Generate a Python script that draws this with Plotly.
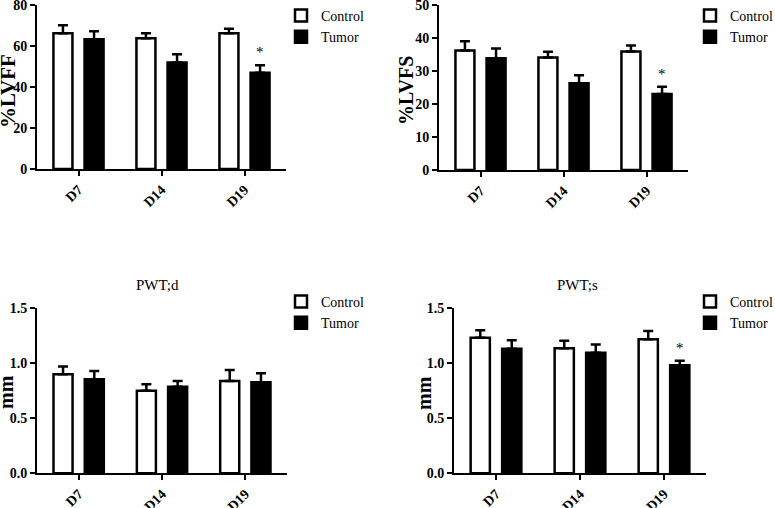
import plotly.graph_objects as go

# ---------------- data ----------------
categories = ["D7", "D14", "D19"]

lvff_control = [66.2, 63.8, 66.2]
lvff_control_err = [3.9, 2.4, 2.2]
lvff_tumor = [63.3, 52.0, 47.0]
lvff_tumor_err = [3.9, 4.0, 3.6]

lvfs_control = [36.2, 34.1, 35.9]
lvfs_control_err = [2.8, 1.7, 1.8]
lvfs_tumor = [33.9, 26.3, 23.0]
lvfs_tumor_err = [2.9, 2.4, 2.2]

pwtd_control = [0.90, 0.75, 0.84]
pwtd_control_err = [0.07, 0.06, 0.10]
pwtd_tumor = [0.855, 0.787, 0.827]
pwtd_tumor_err = [0.075, 0.053, 0.083]

pwts_control = [1.233, 1.136, 1.218]
pwts_control_err = [0.067, 0.069, 0.076]
pwts_tumor = [1.133, 1.097, 0.982]
pwts_tumor_err = [0.077, 0.073, 0.042]

panel_titles = ["", "", "PWT;d", "PWT;s"]
y_titles = ["%LVFF", "%LVFS", "mm", "mm"]
y_ranges = [[0, 80], [0, 50], [0, 1.5], [0, 1.5]]
y_tickvals = [[0, 20, 40, 60, 80], [0, 10, 20, 30, 40, 50],
              [0, 0.5, 1.0, 1.5], [0, 0.5, 1.0, 1.5]]
y_ticktext = [["0", "20", "40", "60", "80"], ["0", "10", "20", "30", "40", "50"],
              ["0.0", "0.5", "1.0", "1.5"], ["0.0", "0.5", "1.0", "1.5"]]
# index of categories marked significant (*) per panel
significant = [[2], [2], [], [2]]

panels = [
    (lvff_control, lvff_control_err, lvff_tumor, lvff_tumor_err),
    (lvfs_control, lvfs_control_err, lvfs_tumor, lvfs_tumor_err),
    (pwtd_control, pwtd_control_err, pwtd_tumor, pwtd_tumor_err),
    (pwts_control, pwts_control_err, pwts_tumor, pwts_tumor_err),
]

# ---------------- layout geometry (pixels) ----------------
W, H = 775, 508
px_x = [(37, 286), (439, 688), (37, 287), (454, 706)]
px_y = [(5, 169), (5, 170), (308.3, 473.3), (308.3, 473.3)]
legend_px = [(281, 0), (690, 0), (281, 286), (690, 286)]
title_px = [None, None, (157, 285), (577, 285)]
ytitle_px = [(8, 91), (406, 91), (6, 392), (424, 393)]
ytitle_size = [21, 20, 20, 20]

SERIF = "Liberation Serif, Times New Roman, serif"

fig = go.Figure()
layout_axes = {}
annotations = []

for i, (c, ce, t, te) in enumerate(panels):
    n = i + 1
    xa = "x" if n == 1 else f"x{n}"
    ya = "y" if n == 1 else f"y{n}"
    leg = "legend" if n == 1 else f"legend{n}"
    fig.add_trace(go.Bar(
        x=categories, y=c, name="Control", xaxis=xa, yaxis=ya, legend=leg,
        marker=dict(color="white", line=dict(color="black", width=2.5)),
        error_y=dict(type="data", array=ce, arrayminus=[0] * len(ce), symmetric=False,
                     color="black", thickness=2.5, width=5),
        offsetgroup="c",
    ))
    fig.add_trace(go.Bar(
        x=categories, y=t, name="Tumor", xaxis=xa, yaxis=ya, legend=leg,
        marker=dict(color="black", line=dict(color="black", width=2.5)),
        error_y=dict(type="data", array=te, arrayminus=[0] * len(te), symmetric=False,
                     color="black", thickness=2.5, width=5),
        offsetgroup="t",
    ))

    x0, x1 = px_x[i]
    ytop, ybot = px_y[i]
    xkey = "xaxis" if n == 1 else f"xaxis{n}"
    ykey = "yaxis" if n == 1 else f"yaxis{n}"
    layout_axes[xkey] = dict(
        domain=[x0 / W, x1 / W], anchor=ya, type="category",
        range=[-0.5, len(categories) - 0.5],
        showline=True, linecolor="black", linewidth=2,
        ticks="outside", ticklen=5, tickwidth=2, tickcolor="black",
        tickangle=-45, showgrid=False, zeroline=False, automargin=False,
        ticklabeloverflow="allow",
        tickfont=dict(family=SERIF, size=14, color="black", weight="bold"),
    )
    layout_axes[ykey] = dict(
        domain=[1 - ybot / H, 1 - ytop / H], anchor=xa,
        range=y_ranges[i], tickmode="array",
        tickvals=y_tickvals[i], ticktext=y_ticktext[i],
        showline=True, linecolor="black", linewidth=2,
        ticks="outside", ticklen=5, tickwidth=2, tickcolor="black",
        showgrid=False, zeroline=False, automargin=False,
        ticklabeloverflow="allow",
        tickfont=dict(family=SERIF, size=14, color="black", weight="bold"),
    )

    # y-axis title
    yx, yy = ytitle_px[i]
    annotations.append(dict(
        text=y_titles[i], xref="paper", yref="paper",
        x=yx / W, y=1 - yy / H, xanchor="center", yanchor="middle",
        textangle=-90, showarrow=False,
        font=dict(family=SERIF, size=ytitle_size[i], color="black", weight="bold"),
    ))

    lx, ly = legend_px[i]
    layout_axes[leg] = dict(
        x=lx / W, y=1 - ly / H, xanchor="left", yanchor="top",
        xref="paper", yref="paper",
        font=dict(family=SERIF, size=14, color="black"),
        bgcolor="rgba(0,0,0,0)", borderwidth=0, tracegroupgap=0,
    )

    if title_px[i] is not None:
        tx, ty = title_px[i]
        annotations.append(dict(
            text=panel_titles[i], xref="paper", yref="paper",
            x=tx / W, y=1 - ty / H, xanchor="center", yanchor="middle",
            showarrow=False, font=dict(family=SERIF, size=15, color="black"),
        ))

    for k in significant[i]:
        annotations.append(dict(
            text="*", xref=xa, yref=ya,
            x=k + 0.19, y=t[k] + te[k], xanchor="center", yanchor="bottom",
            yshift=3, showarrow=False,
            font=dict(family=SERIF, size=15, color="black"),
        ))

fig.update_layout(
    width=W, height=H,
    margin=dict(l=0, r=0, t=0, b=0, autoexpand=False),
    paper_bgcolor="white", plot_bgcolor="white",
    barmode="group", bargap=0.25, bargroupgap=0.39,
    showlegend=True,
    annotations=annotations,
    **layout_axes,
)

fig.write_html(
    "out.html",
    config={"displayModeBar": False},
    post_script="document.body.style.margin='0';document.body.style.overflow='hidden';",
)
